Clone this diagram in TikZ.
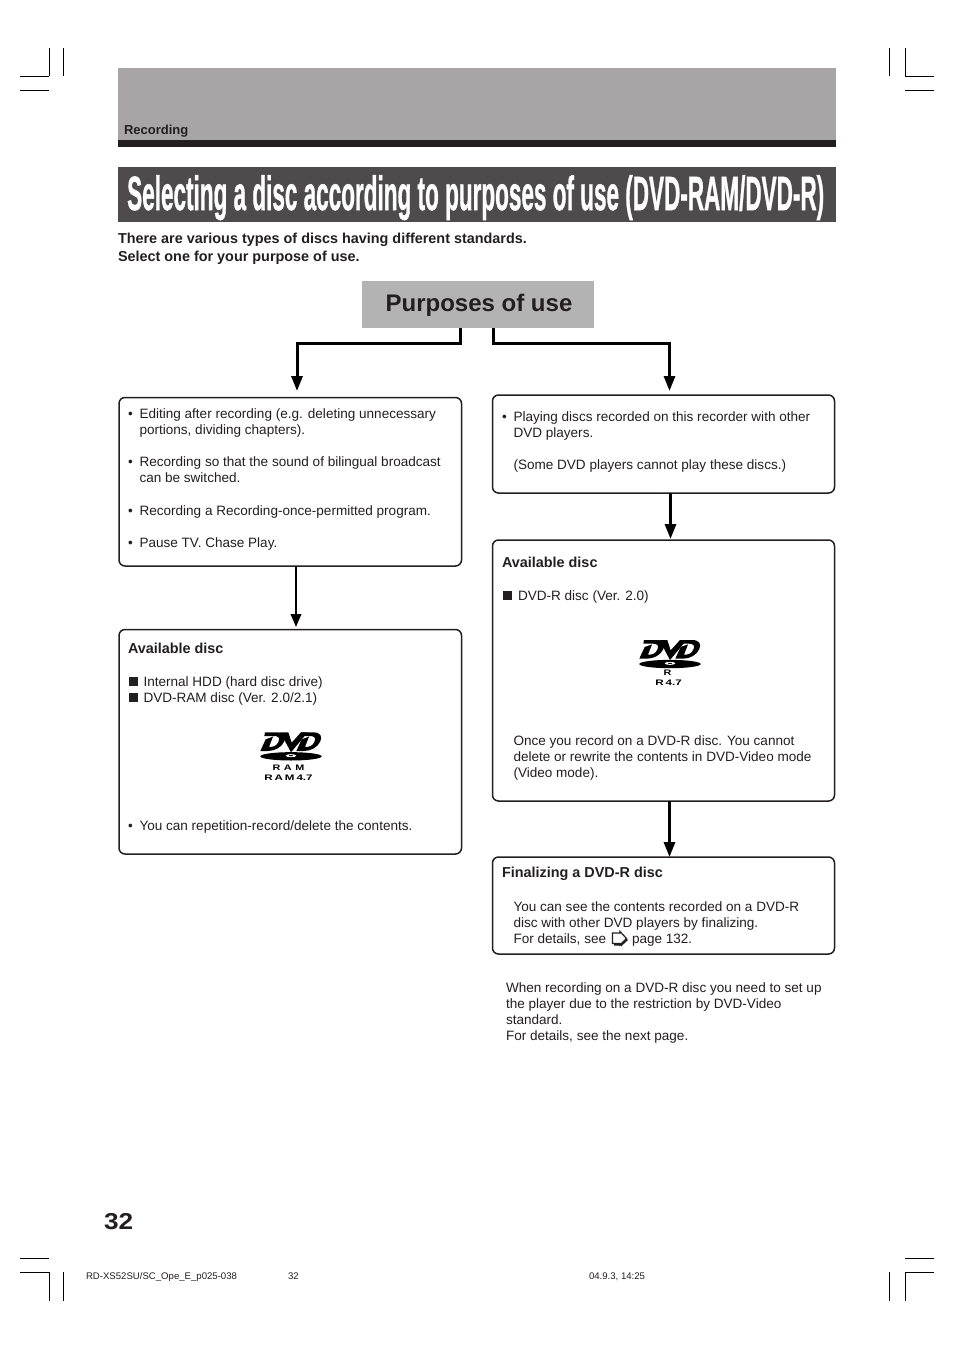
\documentclass[tikz,border=0pt]{standalone}
\usepackage{fontspec}
\usepackage{graphicx}
\setmainfont{Liberation Sans}
\newfontfamily\titlef{Liberation Sans}[BoldFeatures={FakeBold=1.2}]
\usetikzlibrary{arrows.meta,calc}
\definecolor{ink}{HTML}{231F20}
\definecolor{band}{HTML}{A7A5A6}
\definecolor{titlebg}{HTML}{4D4B4C}
\definecolor{purp}{HTML}{B3B3B3}
\newcount\txn
\newcommand{\tx}[3]{\global\advance\txn by 1\relax\node[txt] (t\the\txn) at (#1,#2) {#3};}
\newcommand{\bx}[3]{\global\advance\txn by 1\relax\node[txt,font=\fontsize{14.4}{16}\selectfont\bfseries] (t\the\txn) at (#1,#2) {#3};}
\newcommand{\sq}[2]{\fill[ink] (#1,#2) rectangle ++(9,9);}
\newcommand{\crop}[4]{\draw[cropline] (#1,#2) -- (#3,#4);}
\newcommand{\dvdD}{
 (72,37) -- (108,37) .. controls (132,37) and (136,50) .. (130,64) .. controls (122,82) and (102,93) .. (80,93) -- (58,93) -- (74,58) -- (96,50) -- (84,81) .. controls (98,81) and (106,78) .. (112,66) .. controls (118,54) and (112,48) .. (100,48) -- (70,48) -- cycle}
\newcommand{\dvdlogo}[2]{%
\begin{scope}[shift={(#1,#2)},x=0.3333pt,y=-0.3333pt]
 \fill[black,even odd rule] \dvdD;
 \begin{scope}[xshift=36pt]\fill[black,even odd rule] \dvdD;\end{scope}
 \fill[black] (118,37) -- (142,37) -- (152,68) -- (180,37) -- (200,37) -- (150,97) -- cycle;
 \fill[black] (150,109) ellipse [x radius=92,y radius=12.5];
 \fill[white] (150,107) ellipse [x radius=16,y radius=4.5];
 \fill[black] (150,107) ellipse [x radius=6,y radius=1.8];
\end{scope}}
\tikzset{
 txt/.style={anchor=base west,inner sep=0pt,outer sep=0pt,text=ink,font=\fontsize{13.55}{16}\selectfont},
 cropline/.style={draw=black,line width=0.9pt},
 flowbox/.style={draw=ink,line width=1.5pt,rounded corners=6pt,fill=white,inner sep=0pt,outer sep=0pt,anchor=north west},
 arr/.style={draw=black,line width=3pt,-{Triangle[width=11pt,length=15pt]}},
 logotxt/.style={anchor=base,inner sep=0pt,text=black,font=\fontsize{8}{10}\selectfont\bfseries}
}
\begin{document}
\begin{tikzpicture}[x=1pt,y=-1pt]
\useasboundingbox (0,0) rectangle (954,1351);
\fill[white] (0,0) rectangle (954,1351);
% crop marks
\crop{49}{48}{49}{76}\crop{20}{76}{49}{76}\crop{63}{48}{63}{76}\crop{20}{90}{49}{90}
\crop{889}{48}{889}{76}\crop{905}{48}{905}{76}\crop{905}{76}{934}{76}\crop{905}{90}{934}{90}
\crop{20}{1258}{49}{1258}\crop{20}{1272}{49}{1272}\crop{49}{1272}{49}{1301}\crop{63}{1272}{63}{1301}
\crop{905}{1258}{934}{1258}\crop{905}{1272}{934}{1272}\crop{889}{1272}{889}{1301}\crop{905}{1272}{905}{1301}
% header
\fill[band] (118,68) rectangle (836,140);
\fill[ink] (118,140) rectangle (836,147);
\node[txt,font=\fontsize{13}{14}\selectfont\bfseries] (rec) at (124,135) {Recording};
\fill[titlebg] (118,167) rectangle (836,222);
\node[anchor=north west,inner sep=0pt,text=white] (title) at (127,175) {\resizebox*{697pt}{45pt}{\titlef\bfseries\fontsize{40}{44}\selectfont Selecting a disc according to purposes of use (DVD-RAM/DVD-R)}};
\bx{118}{243}{There are various types of discs having different standards.}
\bx{118}{261}{Select one for your purpose of use.}
% purposes
\node[anchor=north west,fill=purp,minimum width=232pt,minimum height=47pt,inner sep=0pt,outer sep=0pt] (p) at (362,281) {};
\node[anchor=base,inner sep=0pt,text=ink,font=\fontsize{24}{28}\selectfont\bfseries] (ptext) at (479,311) {Purposes of use};
% boxes
\node[flowbox,minimum width=342.5pt,minimum height=168.5pt] (b1) at (119,397.5) {};
\node[flowbox,minimum width=342.5pt,minimum height=224.5pt] (b2) at (119,629.5) {};
\node[flowbox,minimum width=342pt,minimum height=98pt] (r1) at (492.5,395) {};
\node[flowbox,minimum width=342pt,minimum height=261pt] (r2) at (492.5,540) {};
\node[flowbox,minimum width=342pt,minimum height=97pt] (r3) at (492.5,857) {};
% connectors
\draw[arr] (p.south -| 460,0) -- (460,343) -- (297,343) -- (297,391);
\draw[arr] (p.south -| 493,0) -- (493,343) -- (669.5,343) -- (669.5,391);
\draw[arr,line width=2pt,-{Triangle[width=10.5pt,length=13pt]}] (b1.south -| 296,0) -- (296,627);
\draw[arr] (r1.south -| 670.5,0) -- (670.5,539);
\draw[arr] (r2.south -| 669.5,0) -- (669.5,857);
% box 1
\tx{128}{418}{•}\tx{139.5}{418}{Editing after recording (e.g. deleting unnecessary}
\tx{139.5}{434}{portions, dividing chapters).}
\tx{128}{466}{•}\tx{139.5}{466}{Recording so that the sound of bilingual broadcast}
\tx{139.5}{482}{can be switched.}
\tx{128}{515}{•}\tx{139.5}{515}{Recording a Recording-once-permitted program.}
\tx{128}{547}{•}\tx{139.5}{547}{Pause TV. Chase Play.}
% box 2
\bx{128}{653}{Available disc}
\sq{129}{677}\tx{143.5}{686}{Internal HDD (hard disc drive)}
\sq{129}{693}\tx{143.5}{702}{DVD-RAM disc (Ver. 2.0/2.1)}
\dvdlogo{241}{720}
\node[logotxt] (ram1) at (288.5,770.7) {\scalebox{1.35}[1]{R\,\,A\,\,M}};
\node[logotxt] (ram2) at (288.5,780) {\scalebox{1.45}[1]{R\,A\,M\,4.7}};
\tx{128}{830}{•}\tx{139.5}{830}{You can repetition-record/delete the contents.}
% right 1
\tx{502}{421}{•}\tx{513.5}{421}{Playing discs recorded on this recorder with other}
\tx{513.5}{437}{DVD players.}
\tx{513.5}{469}{(Some DVD players cannot play these discs.)}
% right 2
\bx{502}{567}{Available disc}
\sq{503}{591}\tx{518}{600}{DVD-R disc (Ver. 2.0)}
\dvdlogo{620}{627.7}
\node[logotxt] (r1t) at (667.5,675.5) {\scalebox{1.35}[1]{R}};
\node[logotxt] (r2t) at (668.5,685.5) {\scalebox{1.45}[1]{R\,4.7}};
\tx{513.5}{745}{Once you record on a DVD-R disc. You cannot}
\tx{513.5}{761}{delete or rewrite the contents in DVD-Video mode}
\tx{513.5}{777}{(Video mode).}
% right 3
\bx{502}{877}{Finalizing a DVD-R disc}
\tx{513.5}{911}{You can see the contents recorded on a DVD-R}
\tx{513.5}{927}{disc with other DVD players by finalizing.}
\tx{513.5}{943}{For details, see}
\fill[ink] (614,936) -- (621,936) -- (621,933.5) -- (628,940) -- (621,946.5) -- (621,945.5) -- (614,945.5) -- cycle;
\draw[line width=1.2pt,draw=ink,fill=white,line join=miter] (612.5,933) -- (620,933) -- (620,931.5) -- (626.5,938.5) -- (620,945) -- (620,943.5) -- (612.5,943.5) -- cycle;
\tx{632}{943}{page 132.}
% note
\tx{506}{992}{When recording on a DVD-R disc you need to set up}
\tx{506}{1008}{the player due to the restriction by DVD-Video}
\tx{506}{1024}{standard.}
\tx{506}{1040}{For details, see the next page.}
% footer
\node[txt,font=\fontsize{23}{28}\selectfont\bfseries] (pg) at (104,1229) {\scalebox{1.14}[1]{32}};
\node[txt,font=\fontsize{9.6}{11}\selectfont] (f1) at (86,1279) {RD-XS52SU/SC\_Ope\_E\_p025-038};
\node[txt,font=\fontsize{9.6}{11}\selectfont] (f2) at (288,1279) {32};
\node[txt,font=\fontsize{9.6}{11}\selectfont] (f3) at (589,1279) {04.9.3, 14:25};
\end{tikzpicture}
\end{document}
